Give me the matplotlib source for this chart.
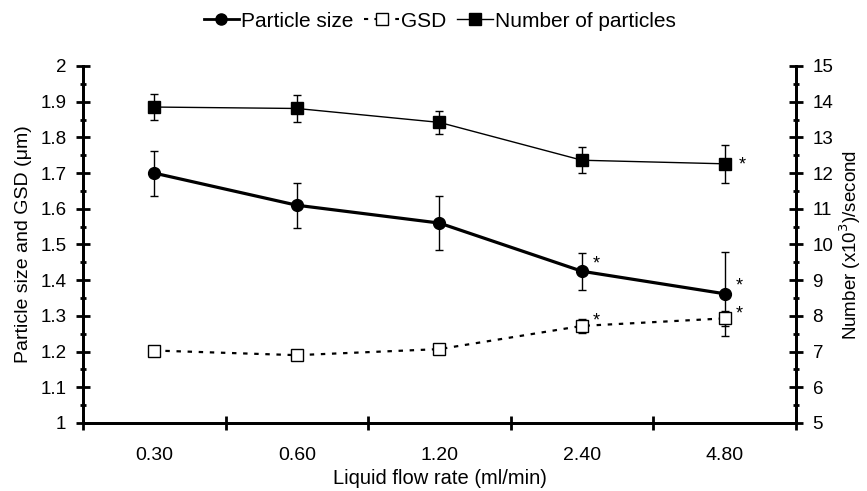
import matplotlib.pyplot as plt
from matplotlib.lines import Line2D
from matplotlib.ticker import MultipleLocator

plt.rcParams["font.family"] = ["Liberation Sans", "DejaVu Sans"]

flow_rates = ["0.30", "0.60", "1.20", "2.40", "4.80"]
particle_size = [1.70, 1.61, 1.56, 1.425, 1.362]
particle_err = [0.063, 0.063, 0.075, 0.052, 0.118]
gsd = [1.203, 1.190, 1.207, 1.272, 1.293]
gsd_err = [0.008, 0.008, 0.008, 0.020, 0.021]
n_particles = [13.85, 13.81, 13.42, 12.36, 12.26]
n_err = [0.37, 0.38, 0.32, 0.36, 0.54]
size_star = [False, False, False, True, True]
gsd_star = [False, False, False, True, True]
n_star = [False, False, False, False, True]


def main():
    fig = plt.figure(figsize=(8.67, 4.91), dpi=100)
    ax = fig.add_axes([0.0957, 0.1385, 0.8223, 0.7271])
    ax2 = ax.twinx()
    x = list(range(len(flow_rates)))

    ebkw = dict(ecolor="black", elinewidth=1, capsize=3, capthick=1)
    ax.errorbar(x, particle_size, yerr=particle_err, color="black", lw=2.3,
                marker="o", ms=8.5, zorder=3, **ebkw)
    ax.errorbar(x, gsd, yerr=gsd_err, color="black", lw=1.6, ls=(0, (2, 3)),
                marker="s", ms=8, mfc="white", mec="black", mew=1, zorder=3, **ebkw)
    ax2.errorbar(x, n_particles, yerr=n_err, color="black", lw=1,
                 marker="s", ms=8, zorder=3, **ebkw)

    for xi, v, s in zip(x, particle_size, size_star):
        if s:
            ax.annotate("*", (xi, v), xytext=(8, 2), textcoords="offset points", fontsize=13)
    for xi, v, s in zip(x, gsd, gsd_star):
        if s:
            ax.annotate("*", (xi, v), xytext=(8, 0), textcoords="offset points", fontsize=13)
    for xi, v, s in zip(x, n_particles, n_star):
        if s:
            ax2.annotate("*", (xi, v), xytext=(10, -4), textcoords="offset points", fontsize=13)

    ax.set_xlim(-0.5, len(flow_rates) - 0.5)
    ax.set_ylim(1, 2)
    ax2.set_ylim(5, 15)
    ax.set_xticks([i - 0.5 for i in range(len(flow_rates) + 1)])
    ax.set_xticklabels([])
    ax.set_xticks(x, minor=True)
    ax.set_xticklabels(flow_rates, minor=True)
    ax.tick_params(axis="x", which="major", direction="inout", length=10, width=2)
    ax.tick_params(axis="x", which="minor", length=0, labelsize=14, pad=17)

    ax.yaxis.set_major_locator(MultipleLocator(0.1))
    ax.yaxis.set_minor_locator(MultipleLocator(0.05))
    ax2.yaxis.set_major_locator(MultipleLocator(1))
    ax2.yaxis.set_minor_locator(MultipleLocator(0.5))
    for a in (ax, ax2):
        a.tick_params(axis="y", which="major", direction="inout", length=10, width=2,
                      labelsize=13.5, pad=7)
        a.tick_params(axis="y", which="minor", direction="inout", length=5, width=2)
    ax.yaxis.set_major_formatter(plt.FuncFormatter(lambda v, p: f"{v:g}"))

    for a in (ax, ax2):
        a.spines["top"].set_visible(False)
        for s in ("left", "right", "bottom"):
            a.spines[s].set_linewidth(2)

    ax.set_xlabel("Liquid flow rate (ml/min)", fontsize=14.5, labelpad=4)
    ax.set_ylabel("Particle size and GSD (\u03bcm)", fontsize=14, labelpad=6)
    ax2.set_ylabel("Number (x10$^3$)/second", fontsize=13.5, labelpad=3)

    handles = [
        Line2D([], [], color="black", lw=2, marker="o", ms=8),
        Line2D([], [], color="black", lw=1.5, ls=(0, (2, 3)), marker="s", ms=8,
               mfc="white", mew=1),
        Line2D([], [], color="black", lw=1, marker="s", ms=8),
    ]
    fig.legend(handles, ["Particle size", "GSD", "Number of particles"],
               loc="center", bbox_to_anchor=(0.507, 0.957), ncol=3, frameon=False,
               fontsize=15, handlelength=1.7, handletextpad=0.1, columnspacing=0.5)

    fig.savefig("out.png", dpi=100)
    plt.close(fig)


if __name__ == "__main__":
    main()
